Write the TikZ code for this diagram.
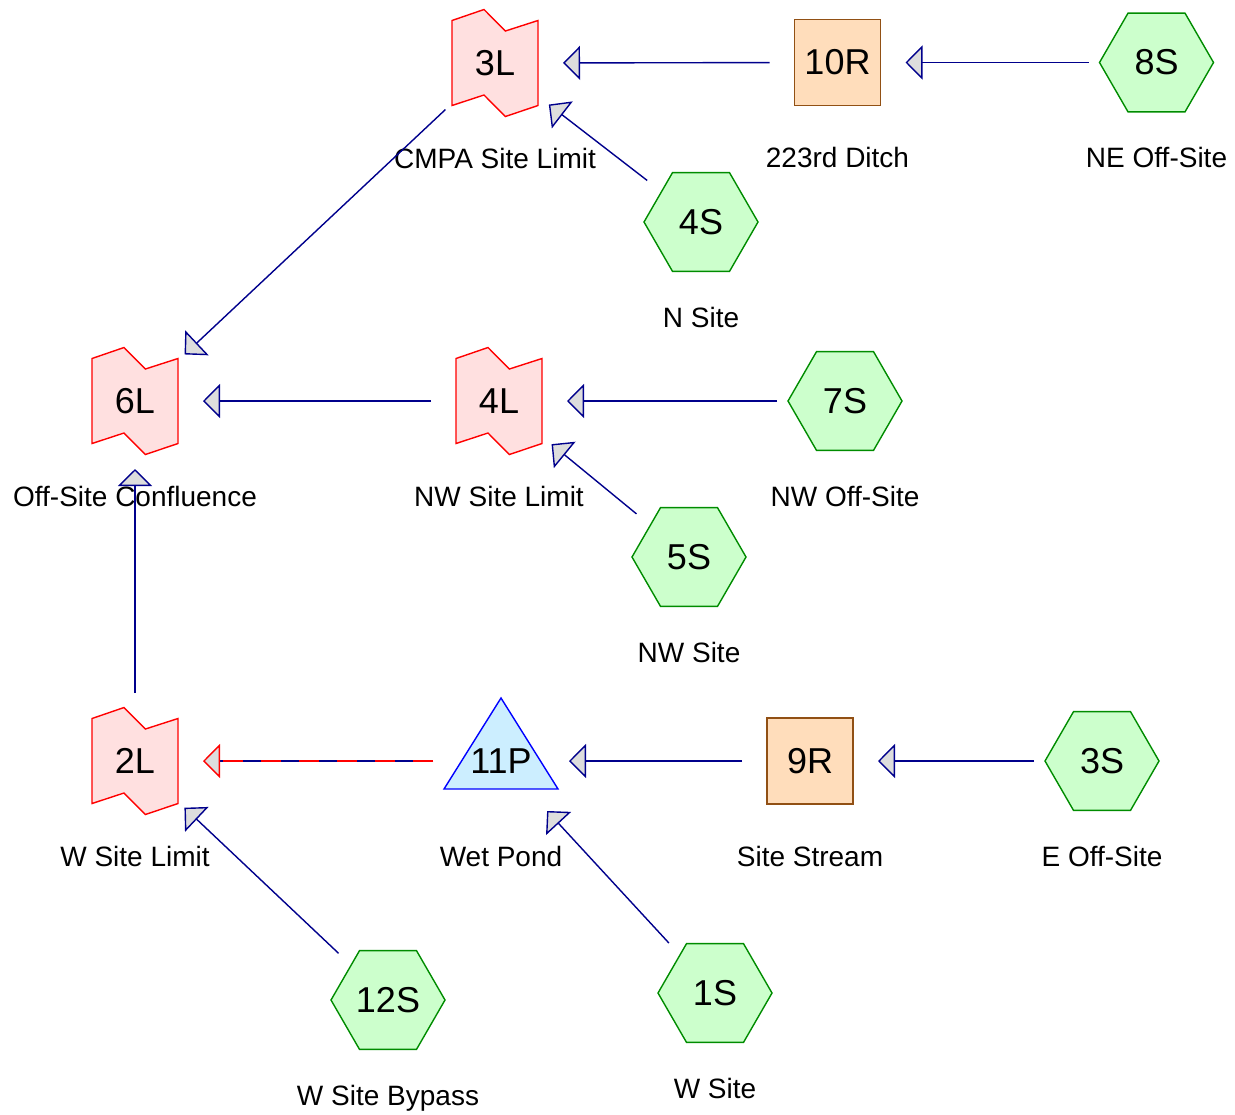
\documentclass[tikz,border=0pt]{standalone}
\usepackage{fontspec}
\setmainfont{Liberation Sans}
\usetikzlibrary{arrows.meta,shapes.geometric}
\definecolor{flowblue}{RGB}{0,0,140}
\definecolor{tipgray}{RGB}{221,221,221}
\definecolor{subfill}{RGB}{204,255,204}
\definecolor{subline}{RGB}{0,140,0}
\definecolor{linkfill}{RGB}{255,224,224}
\definecolor{reachfill}{RGB}{255,221,187}
\definecolor{reachline}{RGB}{145,80,20}
\definecolor{pondfill}{RGB}{204,238,255}
\begin{document}
\begin{tikzpicture}[x=0.5pt,y=-0.5pt,
  tip/.style={-{Triangle[length=8.5pt,width=17pt,fill=tipgray]}},
  flow/.style={draw=flowblue,line width=0.7pt,shorten <=34pt,shorten >=34pt,tip},
  big/.style={font=\fontsize{18pt}{18pt}\selectfont,inner sep=0pt},
  subcat/.style={big,regular polygon,regular polygon sides=6,minimum size=57pt,draw=subline,fill=subfill,line width=0.7pt},
  reach/.style={big,rectangle,minimum size=43pt,draw=reachline,fill=reachfill,line width=0.7pt},
  linkline/.style={draw=red,fill=linkfill,line width=0.7pt},
  lbl/.style={anchor=base,font=\fontsize{14pt}{14pt}\selectfont}]
\useasboundingbox (0,0) rectangle (1235,1114);
\def\lbldrop{105};
\foreach \nm/\x/\y/\lab in {3L/495/63/CMPA Site Limit,6L/135/401/Off-Site Confluence,4L/499/401/NW Site Limit,2L/135/761/W Site Limit}{
  \draw[linkline,shift={(\x,\y)}] (-43,-42.5)--(-11,-53.5)--(10.4,-32)--(43,-42.5)--(43,42.5)--(10.4,53.5)--(-11,32)--(-43,42.5)--cycle;
  \node[big] (\nm) at (\x,\y) {\raisebox{-1pt}{\nm}};
  \node[lbl] (lab\nm) at (\x,\y+\lbldrop) {\lab};
}
\foreach \nm/\x/\y/\lab in {8S/1156.5/62.5/NE Off-Site,4S/701/222/N Site,7S/845/401/NW Off-Site,5S/689/557/NW Site,3S/1102/761/E Off-Site,12S/388/1000/W Site Bypass,1S/715/993/W Site}{
  \node[subcat] (\nm) at (\x,\y) {\raisebox{-1pt}{\nm}};
  \node[lbl] (lab\nm) at (\x,\y+\lbldrop) {\lab};
}
\foreach \nm/\x/\y/\lab in {10R/837.5/62.5/223rd Ditch,9R/810/761/Site Stream}{
  \node[reach] (\nm) at (\x,\y) {\raisebox{-1pt}{\nm}};
  \node[lbl] (lab\nm) at (\x,\y+\lbldrop) {\lab};
}
\draw[draw=blue,fill=pondfill,line width=0.7pt,shift={(501,761)}] (0,-63)--(57,28)--(-57,28)--cycle;
\node[big] (11P) at (501,761) {\raisebox{-1pt}{11P}};
\node[lbl] (lab11P) at (501,761+\lbldrop) {Wet Pond};
\foreach \a/\b in {10R/3L,8S/10R,4S/3L,3L/6L,4L/6L,7S/4L,5S/4L,2L/6L,9R/11P,3S/9R,12S/2L,1S/11P}
  \draw[flow] (\a.center) -- (\b.center);
\draw[flowblue,line width=0.7pt,shorten <=34pt,shorten >=42.5pt] (11P.center) -- (2L.center);
\draw[red,line width=0.7pt,dash pattern=on 10pt off 9pt,shorten <=34pt,shorten >=34pt,tip] (11P.center) -- (2L.center);
\end{tikzpicture}
\end{document}
